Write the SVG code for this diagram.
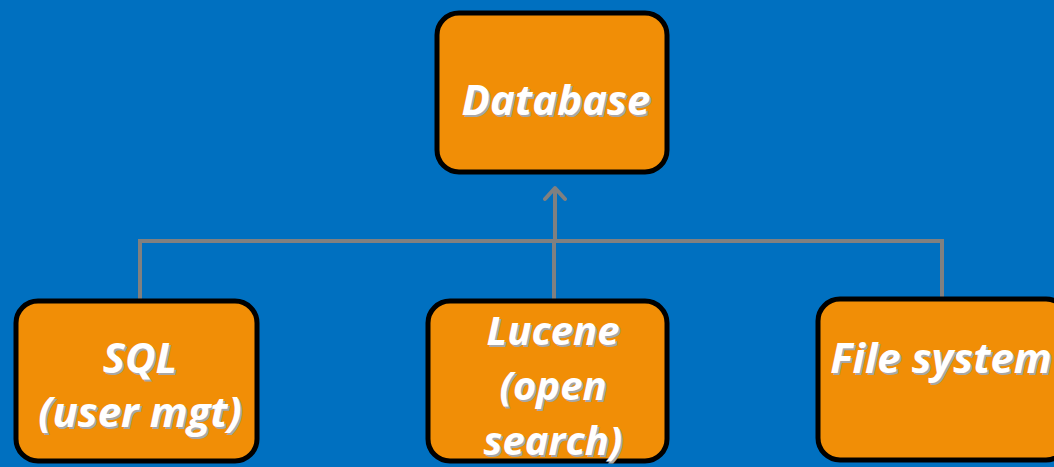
<svg xmlns="http://www.w3.org/2000/svg" width="1054" height="467" viewBox="0 0 1054 467">
<defs>
<style>
.box{fill:#F18E06;stroke:#000;stroke-width:5}
.t{font-family:"Open Sans","Liberation Sans",sans-serif;font-weight:bold;font-style:italic;font-size:42px;text-anchor:middle}
.s40{font-size:40px}
.sh{fill:#A8A8A8}
.fg{fill:#FFFFFF}
.conn{fill:none;stroke:#808080;stroke-width:4}
</style>
<marker id="arr" viewBox="0 0 20 24" refX="14" refY="12" markerWidth="20" markerHeight="24" markerUnits="userSpaceOnUse" orient="auto">
<path d="M3,2 L14,12 L3,22" fill="none" stroke="#808080" stroke-width="4" stroke-linecap="round" stroke-linejoin="round"/>
</marker>
</defs>
<rect width="1054" height="467" fill="#0070C0"/>
<g id="connectors">
<path class="conn" d="M140,299 V241 H942 V299"/>
<path class="conn" d="M554,299 V241"/>
<path class="conn" d="M555,241 V188" marker-end="url(#arr)"/>
</g>
<g id="database">
<rect class="box" x="437" y="13" width="230" height="159" rx="22"/>
<text class="t sh" x="558" y="117">Database</text>
<text class="t fg" x="556" y="115">Database</text>
</g>
<g id="sql">
<rect class="box" x="16" y="301" width="241" height="160" rx="22"/>
<text class="t sh" x="142" y="375">SQL</text>
<text class="t fg" x="140" y="373">SQL</text>
<text class="t sh" x="142" y="429">(user mgt)</text>
<text class="t fg" x="140" y="427">(user mgt)</text>
</g>
<g id="lucene">
<rect class="box" x="428" y="301" width="239" height="160" rx="22"/>
<text class="t s40 sh" x="555" y="347">Lucene</text>
<text class="t s40 fg" x="553" y="345">Lucene</text>
<text class="t s40 sh" x="555" y="402">(open</text>
<text class="t s40 fg" x="553" y="400">(open</text>
<text class="t s40 sh" x="555" y="457">search)</text>
<text class="t s40 fg" x="553" y="455">search)</text>
</g>
<g id="filesystem">
<rect class="box" x="818" y="299" width="250" height="161" rx="22"/>
<text class="t sh" x="943" y="375">File system</text>
<text class="t fg" x="941" y="373">File system</text>
</g>
</svg>
